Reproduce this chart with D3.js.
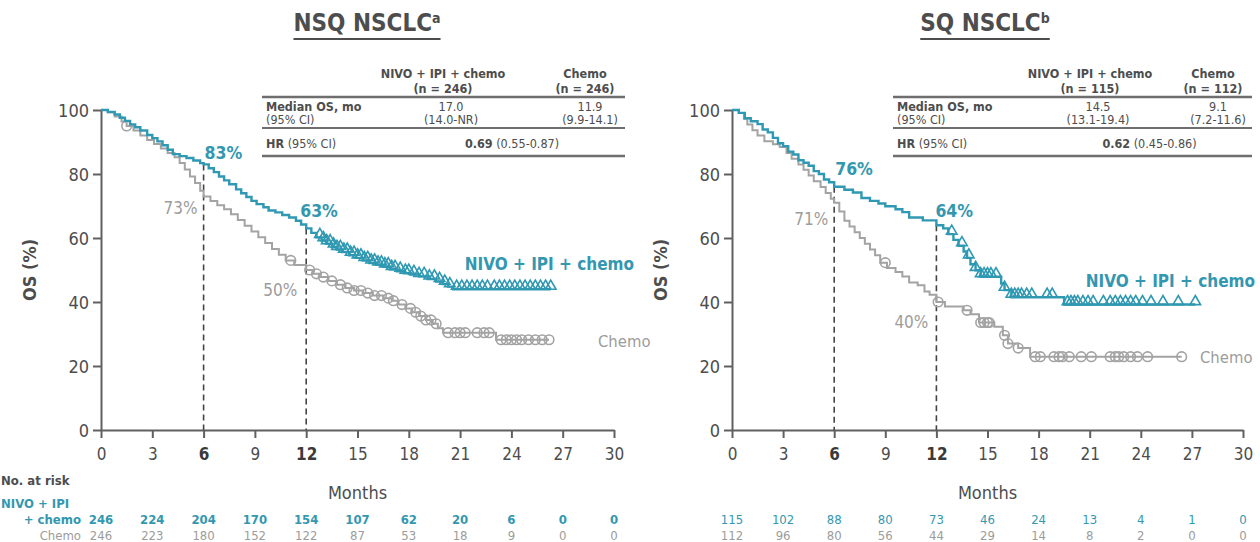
<!DOCTYPE html>
<html>
<head>
<meta charset="utf-8">
<script src="https://cdn.jsdelivr.net/npm/d3@7"></script>
<style>
  html, body { margin: 0; padding: 0; background: #ffffff; }
  svg { display: block; font-family: "DejaVu Sans Condensed", "DejaVu Sans", sans-serif; }
</style>
</head>
<body>
<svg id="chart" width="1260" height="542"></svg>
<script>
// ---- axis ticks ----
const monthTicks = [0, 3, 6, 9, 12, 15, 18, 21, 24, 27, 30];
const osTicks = [0, 20, 40, 60, 80, 100];
const landmarkMonths = [6, 12];

// ---- NSQ NSCLC: Kaplan–Meier steps [month, OS %] ----
const nsqNivoSteps = [
  [0,100],[0.4,99.4],[0.8,98.6],[1.1,97.6],[1.4,96.6],[1.7,95.5],[2.0,94.6],[2.3,93.6],[2.7,92.2],[3.0,91.2],
  [3.3,90.2],[3.6,89],[3.9,87.6],[4.2,86.2],[4.6,85.6],[5.0,85],[5.4,84.2],[5.8,83.4],[6.0,83],[6.3,81.8],
  [6.6,80.6],[6.9,79.2],[7.2,78],[7.5,76.8],[7.9,75.2],[8.2,74],[8.5,72.8],[8.8,71.6],[9.1,70.6],[9.5,69.6],
  [9.8,68.6],[10.2,68],[10.6,67.2],[11.0,66.4],[11.4,65.4],[11.7,64.2],[12.0,63],[12.3,61.6],[12.6,60.2],[12.9,59.2],
  [13.2,58.2],[13.5,57.2],[13.8,56.4],[14.1,55.6],[14.5,54.6],[14.9,53.8],[15.3,53],[15.7,52.2],[16.1,51.6],[16.5,51],
  [16.9,50.2],[17.3,49.6],[17.7,49],[18.1,48.6],[18.6,48],[19.1,47.2],[19.6,46.4],[20.0,45.6],[20.3,44.8],[20.6,44]
];
const nsqChemoSteps = [
  [0,100],[0.4,99.2],[0.8,98],[1.2,96.4],[1.5,95],[1.9,93.6],[2.3,92],[2.7,90.6],[3.1,89.4],[3.5,88],
  [3.9,86.6],[4.3,85.2],[4.6,83.4],[4.9,81.4],[5.2,79.2],[5.5,77.2],[5.8,74.8],[6.0,73],[6.4,71.6],[6.8,70.2],
  [7.2,69],[7.6,67.4],[8.0,65.6],[8.4,63.8],[8.8,62],[9.2,60.2],[9.6,58.4],[10.0,56.6],[10.4,54.8],[10.8,53],
  [11.3,51.6],[12.0,50],[12.4,48.8],[12.8,47.8],[13.3,46.6],[13.8,45.4],[14.3,44.4],[14.8,43.6],[15.3,42.8],[15.9,42],
  [16.5,41.2],[17.0,40.4],[17.4,39.2],[17.8,38],[18.2,36.8],[18.6,35.6],[19.0,34.4],[19.4,33.2],[19.7,31.8],[20.0,30.4],
  [23.1,28.2]
];
const nsqNivoCensored = [
  12.8,13.0,13.2,13.4,13.6,13.8,14.0,14.2,14.4,14.6,14.8,15.0,15.2,15.4,15.6,15.8,16.0,16.2,16.4,16.6,16.8,17.0,
  17.2,17.5,17.8,18.0,18.3,18.6,18.9,19.2,19.5,19.8,20.1,20.4,20.8,21.1,21.4,21.7,22.0,22.3,22.6,23.0,23.3,23.6,
  23.9,24.2,24.5,24.8,25.1,25.4,25.7,26.0,26.3
];
const nsqChemoCensored = [
  1.5,11.1,12.2,12.6,13.0,13.5,14.0,14.4,14.8,15.2,15.6,16.0,16.4,16.8,17.1,17.6,18.1,18.4,18.7,19.0,19.3,19.6,
  20.3,20.7,21.0,21.3,22.0,22.4,22.7,23.4,23.7,24.0,24.3,24.6,25.0,25.4,25.8,26.2
];
const nsqNivoAtLandmark = [83, 63];
const nsqChemoAtLandmark = [73, 50];
const nsqNivoAtRisk = [246, 224, 204, 170, 154, 107, 62, 20, 6, 0, 0];
const nsqChemoAtRisk = [246, 223, 180, 152, 122, 87, 53, 18, 9, 0, 0];
const nsqSummary = {
  nivoN: "(n = 246)", chemoN: "(n = 246)",
  nivoMedian: "17.0", nivoCI: "(14.0-NR)", chemoMedian: "11.9", chemoCI: "(9.9-14.1)",
  hr: "0.69", hrCI: " (0.55-0.87)"
};

// ---- SQ NSCLC: Kaplan–Meier steps [month, OS %] ----
const sqNivoSteps = [
  [0,100],[0.4,99.1],[0.75,97.4],[1.1,96.5],[1.5,95.6],[1.8,93.9],[2.1,93],[2.4,91.3],[2.7,89.6],[3.0,88.7],
  [3.3,87],[3.6,86.1],[3.9,84.3],[4.2,83.5],[4.5,82.6],[4.8,80.9],[5.1,80],[5.4,78.3],[5.7,77.4],[6.0,76],
  [6.6,75.1],[7.1,74.2],[7.6,72.5],[8.1,71.6],[8.6,70.8],[9.0,69.9],[9.6,69],[10.0,68.1],[10.4,66.4],[11.2,65.5],
  [12.0,64],[12.4,63],[12.7,61.2],[13.0,59.4],[13.3,57.6],[13.6,55.8],[13.8,53.8],[14.0,51.8],[14.3,49.9],[14.6,47.9],
  [15.8,45.8],[16.0,43.7],[16.4,41.5],[19.5,39.2]
];
const sqChemoSteps = [
  [0,100],[0.4,99.1],[0.7,97.3],[0.9,95.5],[1.2,93.7],[1.5,92],[1.9,90.2],[2.4,89.3],[2.8,88.4],[3.2,86.6],
  [3.5,84.8],[3.9,83],[4.2,81.3],[4.5,79.5],[4.8,77.7],[5.2,75.9],[5.5,74.1],[5.8,72.3],[6.0,71],[6.3,68.3],
  [6.6,65.4],[6.9,63.6],[7.2,61.8],[7.5,60],[7.8,58.2],[8.1,56.4],[8.4,54.6],[8.7,52.3],[9.1,50.6],[9.6,49.4],
  [10.0,48],[10.4,46.1],[10.9,45.2],[11.3,43.3],[11.6,42.3],[12.0,40],[12.5,38.6],[13.6,37.4],[14.0,36.2],[14.5,33.6],
  [15.4,32.3],[15.9,29.6],[16.2,27],[16.8,25.6],[17.5,22.9]
];
const sqNivoCensored = [
  12.9,13.5,13.9,14.3,14.6,14.8,15.0,15.2,15.5,16.0,16.4,16.6,16.8,17.0,17.3,17.6,18.5,18.8,19.7,19.9,20.1,
  20.3,20.6,20.9,21.2,21.8,22.2,22.5,22.8,23.1,23.4,23.7,24.1,24.6,25.3,26.2,27.2
];
const sqChemoCensored = [
  9.0,12.1,13.8,14.6,14.8,15.0,15.1,16.0,16.2,16.8,17.8,18.1,18.9,19.2,19.4,19.8,20.5,21.1,22.2,22.5,22.7,
  23.0,23.4,23.8,24.4,26.4
];
const sqNivoAtLandmark = [76, 64];
const sqChemoAtLandmark = [71, 40];
const sqNivoAtRisk = [115, 102, 88, 80, 73, 46, 24, 13, 4, 1, 0];
const sqChemoAtRisk = [112, 96, 80, 56, 44, 29, 14, 8, 2, 0, 0];
const sqSummary = {
  nivoN: "(n = 115)", chemoN: "(n = 112)",
  nivoMedian: "14.5", nivoCI: "(13.1-19.4)", chemoMedian: "9.1", chemoCI: "(7.2-11.6)",
  hr: "0.62", hrCI: " (0.45-0.86)"
};

// ---- styling ----
const TEAL = "#2f98b2";
const TEAL_TEXT = "#3497b0";
const GREY = "#a3a3a3";
const GREY_TEXT = "#9c9c9c";
const DARK = "#4d4d4d";
const AXIS = "#606060";

const svg = d3.select("#chart");

// value of a step curve at time t
function survivalAt(steps, t) {
  let v = steps[0][1];
  for (const [m, s] of steps) { if (m <= t + 1e-9) v = s; else break; }
  return v;
}

function drawPanel(p) {
  const g = svg.append("g");
  const x = d3.scaleLinear().domain([0, 30]).range(p.xRange);
  const y = d3.scaleLinear().domain([0, 100]).range([430, 110]);

  // title with superscript and underline
  const title = g.append("text")
    .attr("x", p.titleX).attr("y", 31)
    .attr("text-anchor", "middle")
    .attr("font-size", 24).attr("font-weight", "bold").attr("fill", DARK);
  title.append("tspan").text(p.title);
  title.append("tspan").text(p.sup).attr("font-size", 14).attr("dy", -8);
  const tb = title.node().getBBox();
  g.append("line")
    .attr("x1", tb.x).attr("x2", tb.x + tb.width)
    .attr("y1", 39).attr("y2", 39)
    .attr("stroke", DARK).attr("stroke-width", 2);

  // summary table
  const t = p.table;
  const tx0 = p.tableX[0], tx1 = p.tableX[1];
  const c1 = p.tableCols[0], c2 = p.tableCols[1];
  const tt = g.append("g").attr("font-size", 12.5).attr("fill", DARK);
  tt.append("text").attr("x", c1).attr("y", 78).attr("text-anchor", "middle").attr("font-weight", "bold").text("NIVO + IPI + chemo");
  tt.append("text").attr("x", c1).attr("y", 93).attr("text-anchor", "middle").attr("font-weight", "bold").text(t.nivoN);
  tt.append("text").attr("x", c2).attr("y", 78).attr("text-anchor", "middle").attr("font-weight", "bold").text("Chemo");
  tt.append("text").attr("x", c2).attr("y", 93).attr("text-anchor", "middle").attr("font-weight", "bold").text(t.chemoN);
  [[97, 2.6], [128, 2], [156, 2.6]].forEach(([ly, w]) => {
    tt.append("line").attr("x1", tx0).attr("x2", tx1).attr("y1", ly).attr("y2", ly)
      .attr("stroke", "#6e6e6e").attr("stroke-width", w);
  });
  tt.append("text").attr("x", tx0 + 4).attr("y", 111).attr("font-weight", "bold").text("Median OS, mo");
  tt.append("text").attr("x", tx0 + 4).attr("y", 124).text("(95% CI)");
  tt.append("text").attr("x", c1 + 8).attr("y", 111).attr("text-anchor", "middle").text(t.nivoMedian);
  tt.append("text").attr("x", c1 + 8).attr("y", 124).attr("text-anchor", "middle").text(t.nivoCI);
  tt.append("text").attr("x", c2 + 5).attr("y", 111).attr("text-anchor", "middle").text(t.chemoMedian);
  tt.append("text").attr("x", c2 + 5).attr("y", 124).attr("text-anchor", "middle").text(t.chemoCI);
  const hrRow = tt.append("text").attr("x", tx0 + 4).attr("y", 148);
  hrRow.append("tspan").attr("font-weight", "bold").text("HR");
  hrRow.append("tspan").text(" (95% CI)");
  const hrVal = tt.append("text").attr("x", (c1 + c2) / 2 - 2).attr("y", 148).attr("text-anchor", "middle");
  hrVal.append("tspan").attr("font-weight", "bold").text(t.hr);
  hrVal.append("tspan").text(t.hrCI);

  // axes
  const xAxis = d3.axisBottom(x).tickValues(monthTicks).tickSize(8).tickSizeOuter(0).tickPadding(10);
  const gx = g.append("g").attr("transform", "translate(0,430)").call(xAxis);
  const yAxis = d3.axisLeft(y).tickValues(osTicks).tickSize(8).tickSizeOuter(0).tickPadding(4);
  const gy = g.append("g").attr("transform", `translate(${p.xRange[0]},0)`).call(yAxis);
  [gx, gy].forEach(a => {
    a.select(".domain").attr("stroke", AXIS).attr("stroke-width", 2);
    a.selectAll(".tick line").attr("stroke", AXIS).attr("stroke-width", 2);
    a.selectAll(".tick text").attr("fill", DARK).attr("font-family", "DejaVu Sans Condensed, DejaVu Sans, sans-serif");
  });
  gx.selectAll(".tick text").attr("font-size", 17)
    .attr("font-weight", d => landmarkMonths.includes(d) ? "bold" : "normal")
    .attr("fill", d => landmarkMonths.includes(d) ? "#3a3a3a" : DARK);
  gy.selectAll(".tick text").attr("font-size", 18).attr("dy", "0.34em");

  g.append("text")
    .attr("transform", `translate(${p.xRange[0] - 65},270) rotate(-90)`)
    .attr("text-anchor", "middle").attr("font-size", 18).attr("font-weight", "bold")
    .attr("fill", DARK).text("OS (%)");
  g.append("text")
    .attr("x", x(15)).attr("y", 499)
    .attr("text-anchor", "middle").attr("font-size", 18).attr("fill", DARK).text("Months");

  // landmark dashed guides
  landmarkMonths.forEach((m, i) => {
    g.append("line")
      .attr("x1", x(m)).attr("x2", x(m))
      .attr("y1", y(p.nivoLandmark[i])).attr("y2", y(0))
      .attr("stroke", "#444").attr("stroke-width", 1.6).attr("stroke-dasharray", "6,4");
  });

  // survival curves
  const line = d3.line().x(d => x(d[0])).y(d => y(d[1])).curve(d3.curveStepAfter);
  const series = [
    { steps: p.chemo, cens: p.chemoCens, color: GREY, width: 2, mark: "circle" },
    { steps: p.nivo, cens: p.nivoCens, color: TEAL, width: 2.4, mark: "triangle" }
  ];
  series.forEach(s => {
    const end = d3.max(s.cens);
    const pts = s.steps.concat([[end, s.steps[s.steps.length - 1][1]]]);
    g.append("path").attr("d", line(pts))
      .attr("fill", "none").attr("stroke", s.color).attr("stroke-width", s.width);
    const marks = g.append("g");
    if (s.mark === "circle") {
      marks.selectAll("circle").data(s.cens).join("circle")
        .attr("cx", d => x(d)).attr("cy", d => y(survivalAt(s.steps, d)))
        .attr("r", 4.8).attr("fill", "none").attr("stroke", s.color).attr("stroke-width", 1.6);
    } else {
      const tri = d3.symbol(d3.symbolTriangle, 48);
      marks.selectAll("path").data(s.cens).join("path")
        .attr("d", tri)
        .attr("transform", d => `translate(${x(d)},${y(survivalAt(s.steps, d)) - 3})`)
        .attr("fill", "none").attr("stroke", s.color).attr("stroke-width", 1.6);
    }
  });

  // landmark percentages
  landmarkMonths.forEach((m, i) => {
    const nv = p.nivoLandmark[i], cv = p.chemoLandmark[i];
    const no = p.nivoLabelOffset[i], co = p.chemoLabelOffset[i];
    g.append("text").attr("x", x(m) + no[0]).attr("y", y(nv) + no[1])
      .attr("font-size", 17.5).attr("font-weight", "bold").attr("fill", TEAL_TEXT).text(nv + "%");
    g.append("text").attr("x", x(m) + co[0]).attr("y", y(cv) + co[1])
      .attr("text-anchor", "end").attr("font-size", 17).attr("fill", GREY_TEXT).text(cv + "%");
  });

  // series names
  g.append("text").attr("x", p.nivoNamePos[0]).attr("y", p.nivoNamePos[1])
    .attr("text-anchor", p.nivoNameAnchor)
    .attr("font-size", 17).attr("font-weight", "bold").attr("fill", TEAL_TEXT).text("NIVO + IPI + chemo");
  g.append("text").attr("x", p.chemoNamePos[0]).attr("y", p.chemoNamePos[1])
    .attr("font-size", 16.5).attr("fill", GREY_TEXT).text("Chemo");

  // numbers at risk
  const rk = g.append("g").attr("font-size", 13).attr("text-anchor", "middle");
  rk.selectAll(".nivoRisk").data(p.nivoRisk).join("text")
    .attr("x", (d, i) => x(monthTicks[i])).attr("y", 524)
    .attr("fill", TEAL_TEXT).attr("font-weight", p.nivoRiskWeight).text(d => d);
  rk.selectAll(".chemoRisk").data(p.chemoRisk).join("text")
    .attr("x", (d, i) => x(monthTicks[i])).attr("y", 540)
    .attr("fill", GREY_TEXT).text(d => d);

  return { x, y };
}

drawPanel({
  title: "NSQ NSCLC", sup: "a", titleX: 367,
  xRange: [101, 614],
  table: nsqSummary, tableX: [262, 625], tableCols: [443, 585],
  nivo: nsqNivoSteps, chemo: nsqChemoSteps,
  nivoCens: nsqNivoCensored, chemoCens: nsqChemoCensored,
  nivoLandmark: nsqNivoAtLandmark, chemoLandmark: nsqChemoAtLandmark,
  nivoLabelOffset: [[1, -5], [-6, -11]],
  chemoLabelOffset: [[-6, 18], [-9, 26]],
  nivoNamePos: [634, 270], nivoNameAnchor: "end",
  chemoNamePos: [598, 347],
  nivoRisk: nsqNivoAtRisk, chemoRisk: nsqChemoAtRisk, nivoRiskWeight: "bold"
});

drawPanel({
  title: "SQ NSCLC", sup: "b", titleX: 985,
  xRange: [732, 1243],
  table: sqSummary, tableX: [893, 1252], tableCols: [1090, 1213],
  nivo: sqNivoSteps, chemo: sqChemoSteps,
  nivoCens: sqNivoCensored, chemoCens: sqChemoCensored,
  nivoLandmark: sqNivoAtLandmark, chemoLandmark: sqChemoAtLandmark,
  nivoLabelOffset: [[1, -12], [-1, -8]],
  chemoLabelOffset: [[-6, 22], [-8, 26]],
  nivoNamePos: [1255, 287], nivoNameAnchor: "end",
  chemoNamePos: [1200, 363],
  nivoRisk: sqNivoAtRisk, chemoRisk: sqChemoAtRisk, nivoRiskWeight: "normal"
});

// at-risk row labels
const riskLabels = svg.append("g").attr("font-size", 13);
riskLabels.append("text").attr("x", 1).attr("y", 485).attr("font-weight", "bold").attr("fill", DARK).text("No. at risk");
riskLabels.append("text").attr("x", 1).attr("y", 508).attr("font-weight", "bold").attr("fill", TEAL_TEXT).text("NIVO + IPI");
riskLabels.append("text").attr("x", 81).attr("y", 524).attr("text-anchor", "end").attr("font-weight", "bold").attr("fill", TEAL_TEXT).text("+ chemo");
riskLabels.append("text").attr("x", 81).attr("y", 540).attr("text-anchor", "end").attr("fill", GREY_TEXT).text("Chemo");
</script>
</body>
</html>
